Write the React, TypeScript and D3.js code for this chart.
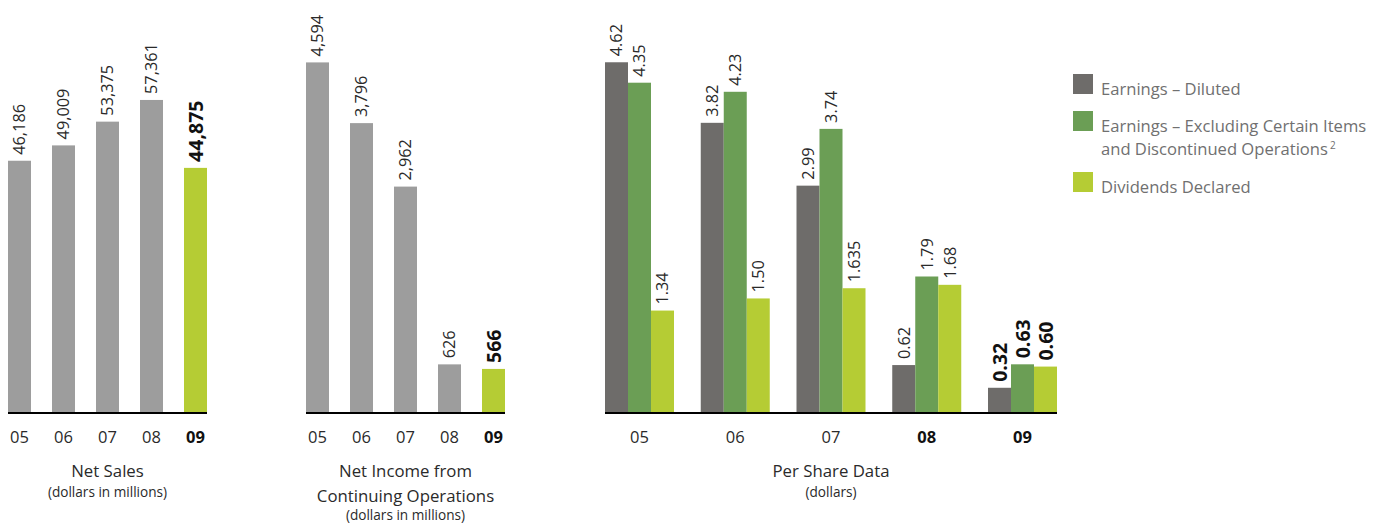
import React from "react";
import * as d3 from "d3";

const years = ["05", "06", "07", "08", "09"];
const netSales = [46186, 49009, 53375, 57361, 44875];
const netIncome = [4594, 3796, 2962, 626, 566];
const earningsDiluted = [4.62, 3.82, 2.99, 0.62, 0.32];
const earningsExcl = [4.35, 4.23, 3.74, 1.79, 0.63];
const dividends = [1.34, 1.5, 1.635, 1.68, 0.6];
const seriesNames = ["Earnings – Diluted", "Earnings – Excluding Certain Items", "Dividends Declared"];
const boldTicksPerShare = ["08", "09"];

const W = 1373;
const H = 524;
const BASE = 412;
const FONT = "'Open Sans', 'Noto Sans', sans-serif";
const GRAY = "#9d9d9d";
const LIME = "#b5cc34";
const DARK = "#6e6c6a";
const GREEN = "#6b9e55";
const TXT = "#2a2a2a";
const LEG = "#707070";

function fmtPS(v: number) {
  const c = v * 100;
  return Math.abs(c - Math.round(c)) < 1e-6 ? v.toFixed(2) : v.toFixed(3);
}

function ValueLabel({ x, y, text, bold }: { x: number; y: number; text: string; bold: boolean }) {
  return (
    <text
      transform={`translate(${x},${y}) rotate(-90)`}
      dy="0.36em"
      fontFamily={FONT}
      fontSize={bold ? 19.5 : 16.3}
      fontWeight={bold ? 700 : 400}
      fill={bold ? "#111" : TXT}
    >
      {text}
    </text>
  );
}

function SimpleChart({
  x0,
  values,
  yMax,
  pxPerUnit,
  titles,
}: {
  x0: number;
  values: number[];
  yMax: number;
  pxPerUnit: number;
  titles: string[];
}) {
  const step = 44;
  const bw = 23;
  const p = (step - bw) / step;
  const x = d3
    .scaleBand<string>()
    .domain(years)
    .range([x0 - (step - bw) / 2, x0 - (step - bw) / 2 + step * years.length])
    .paddingInner(p)
    .paddingOuter(p / 2);
  const y = d3.scaleLinear().domain([0, yMax]).range([BASE, BASE - yMax * pxPerUnit]);
  const fmt = d3.format(",");
  const left = x(years[0])!;
  const right = x(years[years.length - 1])! + x.bandwidth();
  const cx = (left + right) / 2;
  return (
    <g>
      {years.map((yr, i) => {
        const last = i === years.length - 1;
        return (
          <g key={yr}>
            <rect x={x(yr)} y={y(values[i])} width={x.bandwidth()} height={BASE - y(values[i])} fill={last ? LIME : GRAY} />
            <ValueLabel x={x(yr)! + x.bandwidth() / 2} y={y(values[i]) - 6} text={fmt(values[i])} bold={last} />
            <text
              x={x(yr)! + x.bandwidth() / 2}
              y={443}
              textAnchor="middle"
              fontFamily={FONT}
              fontSize={16.5}
              fontWeight={last ? 700 : 400}
              fill={last ? "#111" : TXT}
            >
              {yr}
            </text>
          </g>
        );
      })}
      <line x1={left} x2={right} y1={BASE + 1} y2={BASE + 1} stroke="#000" strokeWidth={2.2} />
      {titles.map((t, i) => (
        <text
          key={i}
          x={cx}
          y={titles.length === 2 ? [477, 497][i] : [477, 502, 520][i]}
          textAnchor="middle"
          fontFamily={FONT}
          fontSize={i === titles.length - 1 ? 13.6 : 16.8}
          fill={TXT}
        >
          {t}
        </text>
      ))}
    </g>
  );
}

function PerShareChart() {
  const step = 95.75;
  const gw = 69;
  const p = (step - gw) / step;
  const x0 = 605 - (step - gw) / 2;
  const x = d3
    .scaleBand<string>()
    .domain(years)
    .range([x0, x0 + step * years.length])
    .paddingInner(p)
    .paddingOuter(p / 2);
  const series = [earningsDiluted, earningsExcl, dividends];
  const colors = [DARK, GREEN, LIME];
  const xs = d3.scaleBand<number>().domain([0, 1, 2]).range([0, x.bandwidth()]);
  const yMax = 5;
  const y = d3.scaleLinear().domain([0, yMax]).range([BASE, BASE - yMax * 75.7]);
  const left = x(years[0])!;
  const right = x(years[years.length - 1])! + x.bandwidth();
  const cx = (left + right) / 2;
  return (
    <g>
      {years.map((yr, i) => {
        const last = i === years.length - 1;
        return (
          <g key={yr}>
            {series.map((s, j) => {
              const bx = x(yr)! + xs(j)!;
              return (
                <g key={j}>
                  <rect x={bx} y={y(s[i])} width={xs.bandwidth()} height={BASE - y(s[i])} fill={colors[j]} />
                  <ValueLabel x={bx + xs.bandwidth() / 2} y={y(s[i]) - 6} text={fmtPS(s[i])} bold={last} />
                </g>
              );
            })}
            <text
              x={x(yr)! + x.bandwidth() / 2}
              y={443}
              textAnchor="middle"
              fontFamily={FONT}
              fontSize={16.5}
              fontWeight={boldTicksPerShare.includes(yr) ? 700 : 400}
              fill={boldTicksPerShare.includes(yr) ? "#111" : TXT}
            >
              {yr}
            </text>
          </g>
        );
      })}
      <line x1={left} x2={right} y1={BASE + 1} y2={BASE + 1} stroke="#000" strokeWidth={2.2} />
      <text x={cx} y={477} textAnchor="middle" fontFamily={FONT} fontSize={16.8} fill={TXT}>
        Per Share Data
      </text>
      <text x={cx} y={497} textAnchor="middle" fontFamily={FONT} fontSize={13.6} fill={TXT}>
        (dollars)
      </text>
      <g fontFamily={FONT} fontSize={16.6} fill={LEG}>
        <rect x={1073} y={74} width={20} height={20} fill={DARK} />
        <text x={1101} y={95}>{seriesNames[0]}</text>
        <rect x={1073} y={111} width={20} height={20} fill={GREEN} />
        <text x={1101} y={132}>{seriesNames[1]}</text>
        <text x={1101} y={155}>
          and Discontinued Operations
          <tspan fontSize={10} dx={2} dy={-6}>2</tspan>
        </text>
        <rect x={1073} y={172} width={20} height={20} fill={LIME} />
        <text x={1101} y={193}>{seriesNames[2]}</text>
      </g>
    </g>
  );
}

export default function App() {
  return (
    <svg width={W} height={H} style={{ position: "absolute", left: 0, top: 0, background: "#fff" }}>
      <SimpleChart x0={8} values={netSales} yMax={60000} pxPerUnit={0.00544} titles={["Net Sales", "(dollars in millions)"]} />
      <SimpleChart
        x0={306}
        values={netIncome}
        yMax={5000}
        pxPerUnit={0.0761}
        titles={["Net Income from", "Continuing Operations", "(dollars in millions)"]}
      />
      <PerShareChart />
    </svg>
  );
}
